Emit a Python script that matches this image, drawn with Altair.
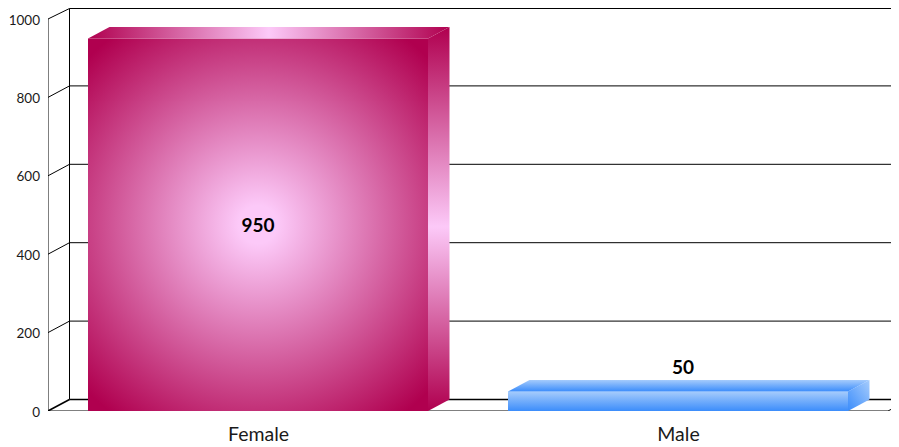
import altair as alt
import pandas as pd

categories = ["Female", "Male"]
values = [950, 50]
y_ticks = [0, 200, 400, 600, 800, 1000]

# geometry in data units: one category = 1 x unit
PX_X = 420.0      # px per category
PX_Y = 0.392      # px per value unit
W, H = 843, 403
XMAX = W / PX_X
YMAX = H / PX_Y
DX = 21.5 / PX_X          # oblique depth
DY = 11.5 / PX_Y
BAR = 340 / PX_X          # bar width
Y_TOP = YMAX - 0.5 / PX_Y  # last line that fits in the page


def lines_table():
    rows = []
    def seg(x, x2, y, y2, w=1.0):
        rows.append(dict(x=x, x2=x2, y=min(y, Y_TOP), y2=min(y2, Y_TOP), w=w))
    for t in y_ticks:
        w = 1.6 if t == 0 else 1.0
        seg(0, DX, t, t + DY, w)
        seg(DX, XMAX, t + DY, t + DY, 1.6 if t == 0 else 1.0)
    seg(0, 0, 0, 1000)
    seg(DX, DX, DY, 1000 + DY)
    seg(0, 2, 0, 0)
    seg(2, 2 + DX, 0, DY)
    return pd.DataFrame(rows)


def bar_left(i):
    return i + (1 - BAR) / 2


def front(i):
    return pd.DataFrame([dict(x=bar_left(i), x2=bar_left(i) + BAR, y=0, y2=values[i])])


def side(i):
    r = bar_left(i) + BAR
    v = values[i]
    return pd.DataFrame([dict(x=r, y=0, y2=v), dict(x=r + DX, y=DY, y2=v + DY)])


def top(i):
    l = bar_left(i)
    r = l + BAR
    v = values[i]
    return pd.DataFrame([
        dict(x=l, y=v, y2=v),
        dict(x=l + DX, y=v, y2=v + DY),
        dict(x=r, y=v, y2=v + DY),
        dict(x=r + DX, y=v + DY, y2=v + DY),
    ])


PINK_D, PINK_L = "#b0004f", "#fcc9f8"
BLUE_D, BLUE_L = "#3c8dfb", "#a6ccfc"

def stops(*pairs):
    return [dict(offset=o, color=c) for o, c in pairs]

front_fill = [
    dict(gradient="radial", x1=0.5, y1=0.5, x2=0.5, y2=0.5, r1=0, r2=0.64,
         stops=stops((0, PINK_L), (0.08, PINK_L), (1, PINK_D))),
    dict(gradient="linear", x1=0, y1=0, x2=0, y2=1, stops=stops((0, BLUE_L), (1, BLUE_D))),
]
side_fill = [
    dict(gradient="linear", x1=0, y1=0, x2=0, y2=1,
         stops=stops((0, PINK_D), (0.52, PINK_L), (1, PINK_D))),
    dict(gradient="linear", x1=1, y1=0, x2=0, y2=1, stops=stops((0, BLUE_L), (1, BLUE_D))),
]
top_fill = [
    dict(gradient="linear", x1=0, y1=0, x2=1, y2=0,
         stops=stops((0, PINK_D), (0.5, PINK_L), (1, PINK_D))),
    dict(gradient="linear", x1=0, y1=0, x2=0, y2=1, stops=stops((0, BLUE_L), (1, BLUE_D))),
]

x_scale = alt.Scale(domain=[0, XMAX], nice=False, zero=False)
y_scale = alt.Scale(domain=[0, YMAX], nice=False, zero=False)

label_expr = "datum.value < 1 ? '%s' : '%s'" % tuple(categories)
x_enc = alt.X("x:Q", scale=x_scale, title=None,
              axis=alt.Axis(values=[0.5, 1.5], labelExpr=label_expr, grid=False, ticks=False,
                            domain=False, labelFont="Lato", labelFontSize=19.5, labelColor="#1a1a1a",
                            labelPadding=14, labelBound=False, labelFlush=False, labelOverlap=False))
y_enc = alt.Y("y:Q", scale=y_scale, title=None,
              axis=alt.Axis(values=y_ticks, format="d", grid=False, ticks=False, domain=False,
                            labelFont="Lato", labelFontSize=13.5, labelColor="#1a1a1a",
                            labelPadding=8.5, labelOffset=1, labelBound=False, labelFlush=False,
                            labelOverlap=False))

lines = alt.Chart(lines_table()).mark_rule(color="#000000", clip=True).encode(
    x=x_enc, x2="x2:Q", y=y_enc, y2="y2:Q",
    strokeWidth=alt.StrokeWidth("w:Q", scale=None, legend=None),
)

layers = [lines]
for i in range(len(categories)):
    layers.append(alt.Chart(front(i)).mark_rect(color=front_fill[i]).encode(
        x=alt.X("x:Q", scale=x_scale), x2="x2:Q", y=alt.Y("y:Q", scale=y_scale), y2="y2:Q"))
    layers.append(alt.Chart(side(i)).mark_area(color=side_fill[i], clip=True).encode(
        x=alt.X("x:Q", scale=x_scale), y=alt.Y("y:Q", scale=y_scale, stack=None), y2="y2:Q"))
    layers.append(alt.Chart(top(i)).mark_area(color=top_fill[i], clip=True).encode(
        x=alt.X("x:Q", scale=x_scale), y=alt.Y("y:Q", scale=y_scale, stack=None), y2="y2:Q"))

labels = pd.DataFrame({
    "x": [0.5, 1.5 + 5 / PX_X],
    "y": [values[0] / 2, values[1] + DY + 13 / PX_Y],
    "t": [str(v) for v in values],
})
layers.append(alt.Chart(labels).mark_text(font="Lato", fontSize=19, fontWeight="bold", color="#000000", dy=1).encode(
    x=alt.X("x:Q", scale=x_scale), y=alt.Y("y:Q", scale=y_scale), text="t:N"))

chart = alt.layer(*layers).properties(
    width=W, height=H,
    autosize=alt.AutoSizeParams(type="none"),
    padding={"left": 40, "top": 0, "right": 0, "bottom": 36},
).configure_view(stroke=None)

chart.save("out.html", embed_options={"renderer": "svg", "actions": False})
